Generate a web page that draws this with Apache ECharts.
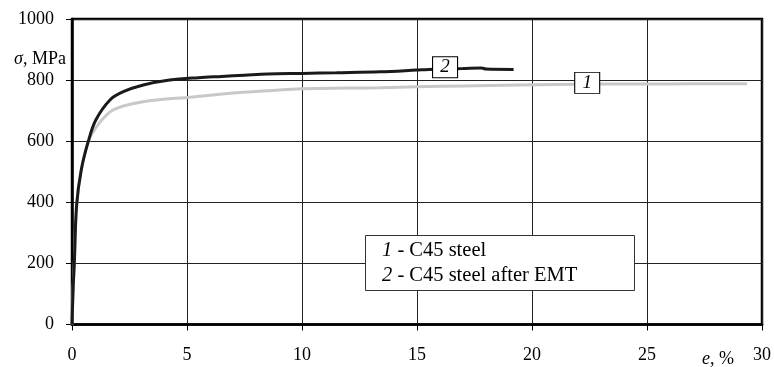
<!DOCTYPE html>
<html>
<head>
<meta charset="utf-8">
<script src="https://cdn.jsdelivr.net/npm/echarts@6/dist/echarts.min.js"></script>
<style>
html,body{margin:0;padding:0;background:#fff;}
#c{width:774px;height:367px;}
</style>
</head>
<body>
<div id="c"></div>
<script>
// Curve 1: C45 steel (grey)
const strain1 = [0, 0.05, 0.1, 0.2, 0.4, 0.71, 1.06, 1.78, 3.08, 5.26, 7.0, 8.5, 10.0, 12.0, 13.4, 15.0, 17.0, 19.4, 21.0, 23.0, 25.0, 27.0, 29.35];
const stress1 = [0, 120, 200, 390, 505, 598, 647, 702, 729, 745, 758, 765, 772, 774, 775, 778, 781, 784, 786, 787, 787, 788, 788];
// Curve 2: C45 steel after EMT (black)
const strain2 = [0, 0.05, 0.1, 0.2, 0.4, 0.71, 1.04, 1.65, 2.23, 3.1, 4.25, 5.5, 6.5, 7.5, 8.5, 10.0, 11.5, 13.4, 15.0, 15.5, 17.0, 17.8, 18.0, 19.2];
const stress2 = [0, 120, 200, 390, 505, 600, 670, 735, 762, 784, 800, 808, 812, 816, 820, 822, 824, 827, 833, 835, 838, 840, 836, 835];
const xTicks = [0, 5, 10, 15, 20, 25, 30];
const yTicks = [0, 200, 400, 600, 800, 1000];
const seriesNames = ['1', '2'];
const legendLines = ['C45 steel', 'C45 steel after EMT'];
const tagPos1 = [22.4, 791];
const tagPos2 = [16.22, 842];

const FONT = 'Liberation Serif';
const zip = (xs, ys) => xs.map((x, i) => [x, ys[i]]);

function tag(label, pos) {
  return {
    silent: true,
    symbol: 'rect',
    symbolSize: [25, 21],
    itemStyle: { color: '#fff', borderColor: '#000', borderWidth: 1 },
    label: { show: true, position: 'inside', formatter: label, color: '#000',
             fontFamily: FONT, fontSize: 19, fontStyle: 'italic' },
    data: [{ coord: pos }]
  };
}

const chart = echarts.init(document.getElementById('c'), null, { renderer: 'canvas' });
chart.setOption({
  animation: false,
  backgroundColor: '#fff',
  grid: { left: 72, right: 11, top: 19, bottom: 42.5, show: true, borderColor: '#000', borderWidth: 2.5, backgroundColor: 'transparent' },
  title: [
    {
      text: '{i|σ}, MPa',
      left: 9, top: 45,
      textStyle: { fontFamily: FONT, fontSize: 18, fontWeight: 'normal', color: '#000',
        rich: { i: { fontFamily: FONT, fontSize: 18, fontStyle: 'italic', color: '#000' } } }
    },
    {
      text: '{i|e}, %',
      left: 697, top: 345,
      textStyle: { fontFamily: FONT, fontSize: 18, fontWeight: 'normal', color: '#000',
        rich: { i: { fontFamily: FONT, fontSize: 18, fontStyle: 'italic', color: '#000' } } }
    },
    {
      text: '{i|' + seriesNames[0] + '} - ' + legendLines[0] + '\n{i|' + seriesNames[1] + '} - ' + legendLines[1],
      left: 365, top: 235,
      padding: [3, 57, 3, 17],
      backgroundColor: '#fff',
      borderColor: '#333', borderWidth: 1,
      textStyle: { fontFamily: FONT, fontSize: 20.5, fontWeight: 'normal', color: '#000', lineHeight: 25,
        rich: { i: { fontFamily: FONT, fontSize: 20.5, fontStyle: 'italic', color: '#000', lineHeight: 25 } } }
    }
  ],
  xAxis: {
    type: 'value', min: xTicks[0], max: xTicks[xTicks.length - 1], interval: 5,
    axisLine: { show: true, onZero: false, lineStyle: { color: '#000', width: 2.5 } },
    axisTick: { show: true, length: 6, lineStyle: { color: '#000', width: 1 } },
    axisLabel: { color: '#000', fontFamily: FONT, fontSize: 18, margin: 22, formatter: v => String(v) },
    splitLine: { show: true, lineStyle: { color: '#222', width: 1 } }
  },
  yAxis: {
    type: 'value', min: yTicks[0], max: yTicks[yTicks.length - 1], interval: 200,
    axisLine: { show: true, onZero: false, lineStyle: { color: '#000', width: 2.5 } },
    axisTick: { show: true, length: 6, lineStyle: { color: '#000', width: 1 } },
    axisLabel: { color: '#000', fontFamily: FONT, fontSize: 18, margin: 18, formatter: v => String(v) },
    splitLine: { show: true, lineStyle: { color: '#222', width: 1 } }
  },
  series: [
    {
      name: seriesNames[0], type: 'line', data: zip(strain1, stress1),
      showSymbol: false, smooth: 0.35, z: 2,
      lineStyle: { color: '#c8c8c8', width: 3 },
      markPoint: tag(seriesNames[0], tagPos1)
    },
    {
      name: seriesNames[1], type: 'line', data: zip(strain2, stress2),
      showSymbol: false, smooth: 0.35, z: 3,
      lineStyle: { color: '#1a1a1a', width: 3 },
      markPoint: tag(seriesNames[1], tagPos2)
    }
  ]
});
</script>
</body>
</html>
